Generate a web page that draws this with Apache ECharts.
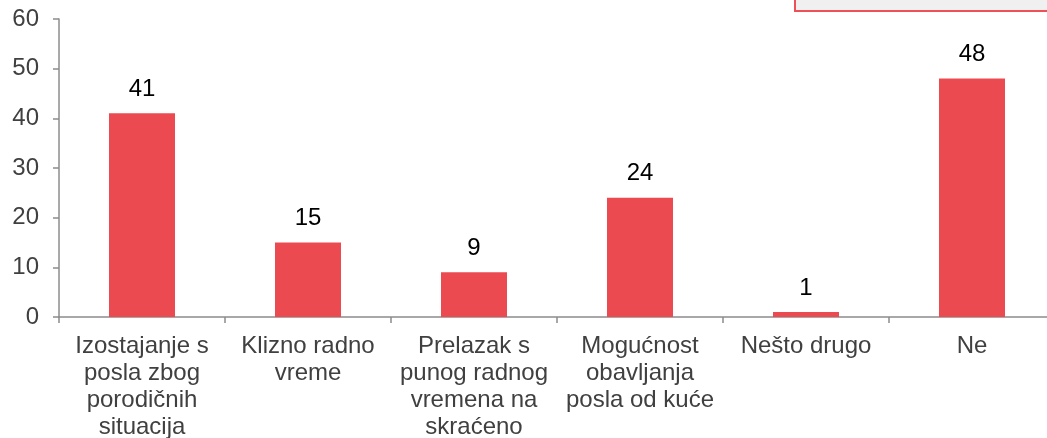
<!DOCTYPE html>
<html><head><meta charset="utf-8">
<script src="https://cdn.jsdelivr.net/npm/echarts@6/dist/echarts.min.js"></script>
<style>html,body{margin:0;padding:0;background:#fff}#c{width:1047px;height:438px}</style>
</head><body><div id="c"></div>
<script>
const categories = ["Izostajanje s\nposla zbog\nporodičnih\nsituacija", "Klizno radno\nvreme", "Prelazak s\npunog radnog\nvremena na\nskraćeno", "Mogućnost\nobavljanja\nposla od kuće", "Nešto drugo", "Ne"];
const values = [41, 15, 9, 24, 1, 48];
const yTicks = [0, 10, 20, 30, 40, 50, 60];

const chart = echarts.init(document.getElementById('c'), null, {renderer: 'canvas'});
chart.setOption({
  animation: false,
  grid: {left: 59, right: -8, top: 19, bottom: 121, containLabel: false, outerBoundsMode: 'none'},
  graphic: [{
    type: 'rect', shape: {x: 795, y: -10, width: 270, height: 21},
    style: {fill: '#f0f0f0', stroke: '#ef4f57', lineWidth: 2}
  }],
  xAxis: {
    type: 'category', data: categories,
    axisLine: {lineStyle: {color: '#8c8c8c', width: 1.5}},
    axisTick: {show: true, length: 6, alignWithLabel: false, lineStyle: {color: '#8c8c8c', width: 1.5}},
    axisLabel: {interval: 0, margin: 16, color: '#404040', fontSize: 24, lineHeight: 27, fontFamily: 'Liberation Sans, Arial, sans-serif'}
  },
  yAxis: {
    type: 'value', min: yTicks[0], max: yTicks[yTicks.length - 1], interval: 10,
    splitLine: {show: false},
    axisLine: {show: true, lineStyle: {color: '#8c8c8c', width: 1.5}},
    axisTick: {show: true, length: 6, lineStyle: {color: '#8c8c8c', width: 1.5}},
    axisLabel: {margin: 20, color: '#404040', fontSize: 24, fontFamily: 'Liberation Sans, Arial, sans-serif'}
  },
  series: [{
    type: 'bar', data: values, barWidth: 66,
    itemStyle: {color: '#ec4a51'},
    label: {show: true, position: 'top', distance: 12, color: '#000', fontSize: 24, fontFamily: 'Liberation Sans, Arial, sans-serif'}
  }]
});
</script></body></html>
